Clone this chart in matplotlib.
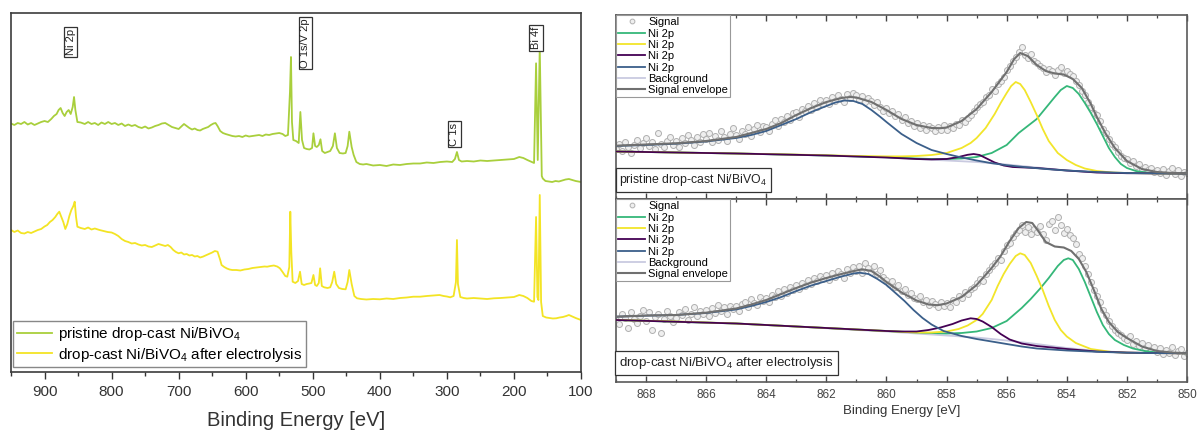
import numpy as np
import matplotlib
matplotlib.use("Agg")
import matplotlib.pyplot as plt
from matplotlib.ticker import MultipleLocator

plt.rcParams['font.family'] = ['Liberation Sans', 'DejaVu Sans']
plt.rcParams['mathtext.fontset'] = 'custom'
plt.rcParams['mathtext.rm'] = 'Liberation Sans'
plt.rcParams['mathtext.it'] = 'Liberation Sans:italic'

# ---------------- survey spectra (left) ----------------
survey_pristine_eV = [950, 945, 940, 935, 930, 925, 920, 915, 910, 905, 900, 895, 890, 886, 882, 879, 876,
                      873, 870, 867, 864, 861, 858, 856, 854, 851, 846, 840, 835, 830, 825, 820, 815, 810,
                      805, 800, 795, 790, 785, 780, 775, 770, 765, 760, 755, 750, 745, 740, 735, 730, 725,
                      720, 715, 710, 705, 700, 696, 692, 688, 684, 680, 676, 672, 668, 664, 660, 656, 652,
                      648, 645, 642, 638, 634, 630, 625, 620, 615, 610, 605, 600, 595, 590, 585, 580, 575,
                      570, 565, 560, 555, 550, 545, 541, 537, 534, 532.5, 531, 529, 525, 521, 518.5, 516,
                      513, 509, 505, 501, 499, 496.5, 494, 491, 488.5, 486, 482, 478, 474, 470, 467, 464,
                      460, 455, 451, 448, 445.5, 442, 439, 435, 430, 425, 420, 410, 400, 390, 380, 370,
                      360, 350, 340, 330, 320, 310, 300, 292, 288, 285, 282, 278, 270, 260, 250, 240, 230,
                      220, 210, 200, 192, 186, 180, 175, 170, 167, 164.5, 161.5, 158.5, 157, 153, 148, 143,
                      138, 133, 128, 123, 118, 113, 108, 104, 100]
survey_pristine_I = [248.5, 247, 249, 248, 250, 247.5, 249, 247, 248.5, 250, 251, 250, 253, 256, 258, 262, 264,
                     259, 256, 260, 262, 258, 265, 275, 262, 250, 249.5, 248, 250, 248, 249, 247, 249.5, 248,
                     250, 248, 249, 247, 248.5, 246, 247.5, 246, 247, 245, 244, 245.5, 243.5, 244.5, 246, 247, 248.5,
                     249, 247, 245, 244, 243, 245.5, 248, 246, 244, 242.5, 243.5, 242, 241.5, 243, 244, 245, 247,
                     248.5, 249, 246, 241, 239, 238, 237, 236, 235.5, 236, 235, 236.5, 235.5, 236, 236.5, 237, 236,
                     237.5, 237, 238, 238.5, 239, 238, 236, 237, 280, 315, 250, 232, 231, 229, 260, 232,
                     224, 223, 222.5, 224, 238.7, 226, 225, 227, 232.7, 221, 219, 220, 221, 226, 238.7, 224,
                     219, 218.5, 219, 226, 240.3, 225, 217, 210, 208, 207.5, 208, 206.5, 207, 206, 207.5, 207,
                     208, 208.5, 208.5, 209.5, 209, 210, 210.5, 210, 213, 220, 212, 210.5, 211, 210.5, 211.5, 211, 211.5,
                     212, 212.5, 213, 215, 214, 212, 210.5, 209, 308.7, 212, 325, 196, 193.5, 191, 190.5, 190,
                     191, 190.5, 191.5, 192.5, 193, 192, 191, 190.5, 190]

survey_elec_eV = [950, 945, 940, 935, 930, 925, 920, 915, 910, 905, 900, 896, 892, 888, 884, 881, 878, 875,
                  872, 869, 866, 863, 860, 857, 855, 853, 851, 846, 840, 835, 830, 825, 818, 812, 806, 800,
                  795, 790, 785, 780, 775, 770, 765, 760, 755, 750, 745, 740, 735, 730, 725, 720, 716, 712,
                  708, 704, 700, 696, 692, 688, 684, 680, 676, 672, 668, 664, 660, 655, 650, 646, 642, 638,
                  636, 632, 628, 624, 620, 614, 608, 602, 596, 590, 584, 578, 572, 568, 563, 558, 553, 549,
                  545, 541, 538, 535, 533.5, 532, 530, 526, 522, 519, 516.5, 513, 509, 505, 502, 499, 496.5,
                  494, 491, 489, 486.5, 483, 478, 474, 471, 468, 465, 461, 456, 451, 448, 445.5, 442, 438,
                  434, 428, 420, 410, 400, 390, 380, 370, 360, 350, 340, 330, 320, 311, 305, 300, 295, 290,
                  286.5, 285, 283.5, 280, 275, 270, 260, 250, 240, 230, 220, 210, 200, 192, 186, 180, 174,
                  170, 167, 165, 163.5, 161.5, 159.5, 157, 152, 147, 142, 137, 132, 127, 122, 118, 113, 108,
                  104, 100]
survey_elec_I = [142, 140, 141.5, 139, 138.5, 140, 139, 140.5, 142, 143, 145.5, 147, 150, 152, 155, 158, 160.3, 155,
                 150, 143, 148, 156, 162, 166, 170.3, 155, 145.3, 144, 143, 144.5, 142.5, 143.5, 142, 141, 140, 139.5,
                 138, 136, 133, 131, 130, 128.5, 129, 127.5, 126.5, 127, 125.5, 125, 126.5, 128, 127, 126, 127, 125,
                 122, 120, 118.7, 119.5, 117.5, 118, 116.5, 117, 115.5, 116, 114.5, 115.3, 116.5, 118, 119.5, 121, 120.3, 112,
                 107, 105, 103.5, 102.5, 102, 102, 101.5, 102.5, 103, 104, 104.5, 105, 105.5, 105.3, 106, 106.5, 105.5, 103.7,
                 100, 96, 95.3, 105, 160.3, 120, 90.3, 89, 91, 100.3, 88, 87, 88, 88.5, 89, 97, 87,
                 86, 89, 103.7, 86, 84.7, 84, 84.7, 90, 100.3, 88, 84, 83, 82.7, 90, 102, 88, 76,
                 73.7, 73, 72.5, 73, 72.7, 73.5, 73, 74, 74.5, 75.3, 75.3, 76, 76.5, 77, 76, 75.5, 74.7, 76,
                 90, 132, 88, 75, 74, 73.5, 74, 73.5, 73, 73.7, 74, 74.5, 75, 77, 76, 74, 71,
                 70.3, 155, 75, 72, 177, 70, 56, 54.5, 54, 53.5, 53.7, 54.5, 55, 56, 57, 55.5, 54,
                 53, 52]

survey_labels = ["pristine drop-cast Ni/BiVO$_4$", "drop-cast Ni/BiVO$_4$ after electrolysis"]
survey_colors = ["#a9cf3c", "#f3e424"]

peak_names = ["Ni 2p", "O 1s/V 2p", "C 1s", "Bi 4f"]
peak_pos_eV = [861, 511, 289, 167]
peak_pos_I = [330, 329, 238, 334]

# ---------------- Ni 2p high-resolution (right) ----------------
# pristine: signal sampled every 0.1 eV from 869 to 850 eV
top_signal = [50, 55, 48, 57, 52, 46, 54, 59, 51, 56,
              61, 53, 57, 50, 66, 55, 52, 58, 62, 54,
              58, 52, 61, 56, 64, 59, 54, 62, 57, 65,
              60, 66, 57, 63, 59, 68, 62, 58, 65, 71,
              64, 60, 68, 65, 72, 63, 70, 74, 67, 73,
              72, 68, 75, 79, 73, 80, 77, 83, 79, 86,
              87, 82, 90, 88, 93, 89, 96, 92, 99, 95,
              99, 95, 102, 98, 104, 100, 97, 105, 101, 106,
              104, 99, 103, 97, 101, 98, 94, 97, 92, 88,
              91, 86, 88, 83, 85, 79, 82, 76, 78, 73,
              76, 71, 74, 69, 73, 71, 68, 72, 69, 74,
              69, 73, 71, 75, 74, 79, 77, 81, 84, 88,
              92, 95, 97, 102, 104, 110, 108, 115, 118, 122,
              129, 133, 138, 142, 147, 152, 144, 141, 145, 138,
              136, 133, 131, 127, 130, 128, 124, 129, 132, 126,
              128, 125, 123, 118, 114, 108, 104, 97, 92, 86,
              84, 78, 70, 66, 60, 55, 52, 47, 43, 41,
              40, 36, 38, 33, 35, 30, 32, 29, 31, 27,
              29, 26, 30, 24, 28, 31, 25, 29, 23, 27,
              26]
top_env_E = [869, 868, 867, 866, 865, 864.5, 864, 863.5, 863, 862.5, 862, 861.5, 861.2, 861, 860.5, 860,
             859.5, 859, 858.5, 858.2, 858, 857.5, 857, 856.5, 856, 855.75, 855.55, 855.3, 855, 854.7,
             854.4, 854.1, 853.8, 853.5, 853.2, 853, 852.7, 852.4, 852, 851.5, 851, 850.5, 850]
top_env_I = [53.3, 54.5, 55.7, 58, 62, 66, 70, 76, 84, 91, 97, 101, 102, 101.5, 97, 89,
             80, 74, 71, 70.8, 71.5, 78, 90, 107, 127, 140, 146, 143, 134, 128,
             125.5, 124.5, 120, 111, 95, 82, 65, 51, 38, 30, 27, 26, 25.7]
top_bg_E = [869, 867, 865, 863, 861, 860, 859, 858, 857, 856, 855, 854, 853, 852, 850]
top_bg_I = [47.5, 46.5, 45.5, 44.3, 42.5, 41.5, 40, 38.5, 37, 34.5, 31.5, 28.5, 26.5, 25.8, 25.5]
top_blue_E = [869, 868, 867, 866, 865, 864.5, 864, 863.5, 863, 862.5, 862, 861.7, 861.4, 861.1, 860.8,
              860.5, 860.2, 860, 859.5, 859, 858.5, 858, 857.5, 857, 856.5, 856, 855.5, 855, 854.5,
              854, 853, 852, 851, 850]
top_blue_I = [53, 54, 55.3, 57.5, 61, 64, 68, 74, 80, 87, 93, 96.5, 98.5, 98, 95,
              89, 82, 77, 65, 56, 49, 45, 41.5, 38.5, 35.8, 33.8, 32.2, 30.8, 29.5,
              28.5, 27, 26, 25.6, 25.5]
top_yellow_E = [869, 867, 865, 863, 861, 860, 859.5, 859, 858.5, 858, 857.5, 857.2, 857, 856.7, 856.4,
                856.2, 856, 855.85, 855.7, 855.55, 855.4, 855.2, 855, 854.8, 854.6, 854.3, 854, 853.7,
                853.4, 853, 852.5, 852, 851, 850]
top_yellow_I = [47.5, 46.5, 45.5, 44.4, 43, 42.6, 42.6, 43, 44, 46, 51, 56, 61, 71, 85,
                96, 106, 113, 117, 115, 109, 97, 84, 70, 58, 46, 39, 34,
                30.5, 28, 26.5, 26, 25.6, 25.5]
top_green_E = [869, 865, 862, 860, 859, 858.5, 858, 857.5, 857, 856.5, 856, 855.6, 855.3, 855, 854.7,
               854.4, 854.2, 854, 853.8, 853.6, 853.4, 853.2, 853, 852.8, 852.6, 852.4, 852.2, 852,
               851.7, 851.3, 851, 850]
top_green_I = [47.5, 45.5, 43.5, 41.8, 40.5, 40, 40, 40.5, 42, 46, 54, 66, 73, 80, 91,
               102, 109, 113, 111, 105, 96, 86, 75, 63, 51, 42, 35, 31,
               28, 26.3, 25.8, 25.5]
top_purple_E = [869, 865, 862, 860, 859, 858.5, 858, 857.6, 857.3, 857.1, 856.9, 856.7, 856.4, 856.1,
                855.8, 855, 854, 853, 852, 850]
top_purple_I = [47.5, 45.5, 43.5, 41.5, 40, 39.6, 40, 42, 44.2, 45, 44, 41, 36.5, 33.5,
                32, 31, 28.5, 26.5, 25.8, 25.5]

# after electrolysis: signal sampled every 0.1 eV from 869 to 850 eV
bot_signal = [62, 58, 68, 64, 54, 70, 63, 59, 66, 72,
              61, 70, 52, 65, 68, 49, 63, 71, 66, 60,
              64, 70, 67, 73, 62, 68, 75, 66, 71, 68,
              72, 66, 74, 69, 77, 71, 75, 68, 76, 73,
              76, 71, 78, 80, 75, 83, 79, 77, 85, 81,
              84, 80, 87, 85, 91, 86, 93, 89, 95, 92,
              97, 93, 99, 96, 102, 98, 104, 101, 106, 103,
              107, 102, 109, 105, 111, 108, 104, 113, 109, 115,
              111, 116, 109, 119, 114, 110, 116, 108, 112, 105,
              102, 98, 101, 95, 97, 91, 93, 87, 89, 84,
              83, 86, 80, 82, 77, 81, 78, 75, 80, 76,
              79, 75, 82, 80, 86, 84, 90, 88, 93, 95,
              99, 103, 101, 108, 112, 116, 119, 124, 122, 131,
              137, 139, 145, 149, 152, 157, 150, 155, 148, 153,
              150, 156, 148, 142, 158, 161, 152, 165, 157, 149,
              153, 147, 144, 138, 128, 124, 116, 108, 100, 92,
              86, 80, 72, 67, 61, 56, 52, 49, 47, 44,
              42, 46, 38, 41, 36, 39, 34, 37, 32, 35,
              30, 34, 28, 32, 29, 35, 27, 31, 33, 26,
              29]
bot_env_E = [869, 868, 867, 866, 865, 864.5, 864, 863.5, 863, 862.5, 862, 861.5, 861, 860.8, 860.5, 860.2,
             860, 859.5, 859, 858.6, 858.3, 858, 857.5, 857, 856.5, 856.2, 855.9, 855.6, 855.35, 855.15,
             854.95, 854.7, 854.4, 854.1, 853.85, 853.6, 853.35, 853.1, 852.85, 852.6, 852.3, 852,
             851.5, 851, 850.5, 850]
bot_env_I = [65.3, 66.5, 67, 69.3, 73.5, 77.5, 82, 88, 94, 99.5, 104, 108, 111.5, 112.7, 111, 105,
             100, 89.5, 81.5, 77.5, 76.8, 78.5, 85, 97, 114, 126, 141, 154, 160, 159,
             151, 140, 135.5, 134.5, 131, 123, 110, 92, 73, 60, 50, 44,
             35.5, 31, 29.5, 28.7]
bot_bg_E = [869, 867, 865, 863, 861, 860, 859, 858, 857, 856, 855, 854, 853, 852, 851, 850]
bot_bg_I = [62, 60.5, 58.5, 55.5, 52, 50.5, 48.5, 46.5, 44.5, 41.5, 38, 34, 31, 29.5, 29, 28.7]
bot_blue_E = [869, 868, 867, 866, 865, 864.5, 864, 863.5, 863, 862.5, 862, 861.5, 861.1, 860.9, 860.6,
              860.3, 860, 859.7, 859.4, 859.1, 858.8, 858.5, 858.1, 857.5, 857, 856.5, 856, 855.5,
              855, 854, 853, 852, 851, 850]
bot_blue_I = [65.3, 66.3, 67, 69, 72.5, 76, 80, 85, 91, 96.5, 101, 105.5, 108.5, 109.3, 108,
              103, 97, 89, 81, 72, 64, 57.5, 51, 46, 43, 40.5, 38, 35.5,
              33.5, 31.5, 30.2, 29.3, 28.9, 28.7]
bot_yellow_E = [869, 867, 865, 863, 861, 860, 859, 858.5, 858, 857.6, 857.3, 857, 856.8, 856.5, 856.3,
                856.1, 855.9, 855.7, 855.55, 855.4, 855.2, 855, 854.8, 854.6, 854.4, 854.2, 854, 853.7,
                853.2, 852.5, 852, 851, 850]
bot_yellow_I = [62, 60.5, 58.5, 55.5, 52.5, 51, 49.5, 49.5, 50.5, 53, 56.5, 62, 68, 82, 96,
                108, 118, 126, 128.7, 127, 119, 106, 92, 76, 62, 52, 45.5, 39,
                33, 30, 29.3, 28.9, 28.7]
bot_green_E = [869, 865, 862, 860, 859, 858, 857.5, 857, 856.5, 856, 855.5, 855.2, 854.9, 854.6, 854.3,
               854.1, 853.95, 853.8, 853.6, 853.4, 853.2, 853, 852.8, 852.6, 852.4, 852.1, 851.8, 851.4,
               851, 850]
bot_green_I = [62, 58.5, 54, 51, 49.5, 48.5, 49, 50.5, 54, 61, 74, 83, 93, 104, 116,
               122, 123.7, 122, 113, 100, 85, 70, 57, 48, 42, 37, 33.5, 31,
               29.5, 28.7]
bot_purple_E = [869, 865, 862, 860, 859.5, 859, 858.6, 858.2, 857.8, 857.5, 857.2, 857, 856.8, 856.5,
                856.2, 855.9, 855.5, 855, 854, 853, 852, 851, 850]
bot_purple_I = [62, 58.5, 54, 51, 50.5, 50.5, 52, 54.5, 58, 61.5, 63.7, 63, 60.5, 55,
                48, 42.5, 38.5, 36, 33, 30.5, 29.4, 28.9, 28.7]

comp_colors = ["#35b779", "#f2e52a", "#440154", "#3b5f8a"]
bg_color = "#c9cae0"
env_color = "#707070"
sample_labels = ["pristine drop-cast Ni/BiVO$_4$", "drop-cast Ni/BiVO$_4$ after electrolysis"]
sample_label_sizes = [8.8, 9.6]

# ---------------- figure ----------------
W, H = 1198, 430
fig = plt.figure(figsize=(W / 100, H / 100), dpi=100)


def fbox(x0, y0, x1, y1):
    return [x0 / W, 1 - y1 / H, (x1 - x0) / W, (y1 - y0) / H]


axL = fig.add_axes(fbox(11, 13, 581, 372))
axL.plot(survey_pristine_eV, survey_pristine_I, color=survey_colors[0], lw=1.3, label=survey_labels[0])
axL.plot(survey_elec_eV, survey_elec_I, color=survey_colors[1], lw=1.3, label=survey_labels[1])
axL.set_xlim(950, 100)
axL.set_ylim(0, 359)
axL.set_yticks([])
axL.xaxis.set_major_locator(MultipleLocator(100))
axL.xaxis.set_minor_locator(MultipleLocator(50))
axL.tick_params(axis='x', which='major', direction='out', length=5, width=1, labelsize=11,
                colors='#333333', pad=4)
axL.tick_params(axis='x', which='minor', direction='out', length=3, width=1, colors='#333333')
for s in axL.spines.values():
    s.set_color('#3c3c3c')
    s.set_linewidth(1.2)
axL.set_xlabel("Binding Energy [eV]", fontsize=14.5, color='#333333', labelpad=9)
for name, xe, yi in zip(peak_names, peak_pos_eV, peak_pos_I):
    axL.text(xe, yi, name, rotation=90, ha='center', va='center', fontsize=8, color='#222222',
             bbox=dict(boxstyle='square,pad=0.15', fc='white', ec='#333333', lw=0.9))
legL = axL.legend(loc='lower left', bbox_to_anchor=(0.003, 0.013), borderaxespad=0, fontsize=11,
                  handlelength=2.3, handletextpad=0.4, labelspacing=0.15, borderpad=0.25,
                  fancybox=False, framealpha=1, edgecolor='#888888')
legL.get_frame().set_linewidth(1.0)

axT = fig.add_axes(fbox(616, 15, 1187, 199))
axB = fig.add_axes(fbox(616, 199, 1187, 382))

panels = [
    (axT, top_signal, (top_env_E, top_env_I), (top_bg_E, top_bg_I),
     [(top_green_E, top_green_I), (top_yellow_E, top_yellow_I), (top_purple_E, top_purple_I),
      (top_blue_E, top_blue_I)], sample_labels[0], sample_label_sizes[0], 184),
    (axB, bot_signal, (bot_env_E, bot_env_I), (bot_bg_E, bot_bg_I),
     [(bot_green_E, bot_green_I), (bot_yellow_E, bot_yellow_I), (bot_purple_E, bot_purple_I),
      (bot_blue_E, bot_blue_I)], sample_labels[1], sample_label_sizes[1], 183),
]

for ax, sig, env, bg, comps, lab, labsize, ytop in panels:
    E_sig = np.linspace(869, 850, len(sig))
    ax.plot(E_sig, sig, 'o', ms=4.3, mfc='#efefef', mec='#b0b0b0', mew=0.7, label='Signal', zorder=2)
    for (ce, ci), c in zip(comps, comp_colors):
        ax.plot(ce, ci, color=c, lw=1.3, label='Ni 2p', zorder=3)
    ax.plot(bg[0], bg[1], color=bg_color, lw=1.3, label='Background', zorder=2.5)
    ax.plot(env[0], env[1], color=env_color, lw=1.5, label='Signal envelope', zorder=4)
    ax.set_xlim(869, 850)
    ax.set_ylim(0, ytop)
    ax.set_yticks([])
    ax.xaxis.set_major_locator(MultipleLocator(2))
    ax.xaxis.set_minor_locator(MultipleLocator(1))
    ax.tick_params(axis='x', which='major', direction='in', top=True, bottom=True, length=4, width=1,
                   labelsize=8.5, colors='#444444', pad=5)
    ax.tick_params(axis='x', which='minor', direction='in', top=True, bottom=True, length=2.5, width=0.9,
                   colors='#444444')
    for s in ax.spines.values():
        s.set_color('#5a5a5a')
        s.set_linewidth(1.2)
    leg = ax.legend(loc='upper left', bbox_to_anchor=(0, 1), borderaxespad=0, fontsize=8,
                    handlelength=2.4, handletextpad=0.3, labelspacing=0.12, borderpad=0.2,
                    fancybox=False, framealpha=1, edgecolor='#999999', markerscale=0.8)
    leg.get_frame().set_linewidth(0.8)
    ax.text(0.006, 0.06, lab, transform=ax.transAxes, ha='left', va='bottom', fontsize=labsize,
            color='#222222', bbox=dict(boxstyle='square,pad=0.3', fc='white', ec='#333333', lw=0.9))

axT.tick_params(axis='x', labelbottom=False)
axB.set_xlabel("Binding Energy [eV]", fontsize=9.5, color='#333333', labelpad=3)

fig.savefig("out.png", dpi=100)
